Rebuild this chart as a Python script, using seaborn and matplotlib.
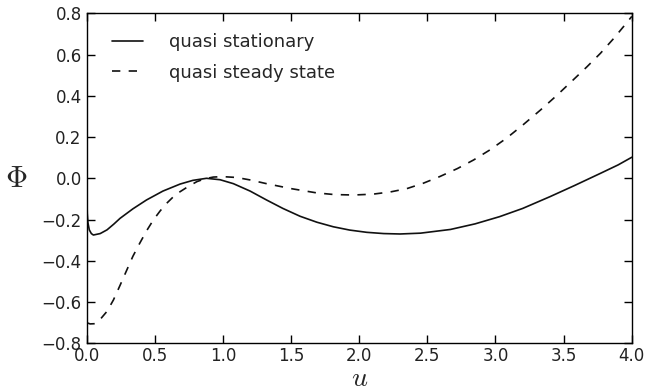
import numpy as np
import pandas as pd
import matplotlib
matplotlib.use("Agg")
import matplotlib.pyplot as plt
import seaborn as sns

# values
u_stat = [0.0, 0.005, 0.01, 0.02, 0.035, 0.05, 0.1, 0.15, 0.2, 0.246, 0.34, 0.44, 0.56, 0.686, 0.78,
          0.88, 0.98, 1.077, 1.2, 1.32, 1.44, 1.566, 1.69, 1.81, 1.93, 2.056, 2.18, 2.3, 2.45, 2.67,
          2.85, 3.03, 3.2, 3.40, 3.58, 3.77, 3.9, 4.0]
phi_stat = [-0.01, -0.17, -0.215, -0.25, -0.268, -0.275, -0.268, -0.25, -0.222, -0.194, -0.148,
            -0.105, -0.062, -0.028, -0.01, 0.0, -0.007, -0.026, -0.062, -0.105, -0.146, -0.184,
            -0.213, -0.235, -0.251, -0.262, -0.268, -0.27, -0.266, -0.248, -0.221, -0.186, -0.146,
            -0.089, -0.035, 0.024, 0.065, 0.102]

u_steady = [0.0, 0.026, 0.06, 0.1, 0.15, 0.197, 0.245, 0.295, 0.34, 0.39, 0.44, 0.49, 0.54, 0.588,
            0.636, 0.686, 0.75, 0.81, 0.87, 0.93, 1.0, 1.1, 1.2, 1.32, 1.5, 1.69, 1.82, 1.96, 2.1,
            2.23, 2.35, 2.47, 2.59, 2.72, 2.84, 2.96, 3.08, 3.2, 3.33, 3.45, 3.57, 3.67, 3.77, 3.87,
            3.97, 4.0]
phi_steady = [-0.70, -0.706, -0.705, -0.684, -0.645, -0.59, -0.52, -0.445, -0.378, -0.315, -0.255,
              -0.202, -0.158, -0.121, -0.09, -0.065, -0.038, -0.016, -0.002, 0.006, 0.008, 0.004,
              -0.008, -0.026, -0.05, -0.071, -0.079, -0.081, -0.077, -0.066, -0.05, -0.024, 0.008,
              0.047, 0.089, 0.138, 0.194, 0.258, 0.331, 0.402, 0.477, 0.54, 0.606, 0.68, 0.76, 0.785]

labels = ["quasi stationary", "quasi steady state"]
xticks = [0.0, 0.5, 1.0, 1.5, 2.0, 2.5, 3.0, 3.5, 4.0]
yticks = [-0.8, -0.6, -0.4, -0.2, 0.0, 0.2, 0.4, 0.6, 0.8]
xticklabels = ["0.0", "0.5", "1.0", "1.5", "2.0", "2.5", "3.0", "3.5", "4.0"]
yticklabels = ["\u22120.8", "\u22120.6", "\u22120.4", "\u22120.2", "0.0", "0.2", "0.4", "0.6", "0.8"]

df = pd.concat([
    pd.DataFrame({"u": u_stat, "phi": phi_stat, "kind": labels[0]}),
    pd.DataFrame({"u": u_steady, "phi": phi_steady, "kind": labels[1]}),
])

sns.set_style("ticks")
plt.rcParams["font.family"] = ["DejaVu Sans"]
plt.rcParams["mathtext.fontset"] = "cm"
plt.rcParams["xtick.direction"] = "in"
plt.rcParams["ytick.direction"] = "in"
plt.rcParams["xtick.top"] = True
plt.rcParams["ytick.right"] = True

fig, ax = plt.subplots(figsize=(6.46, 3.91), dpi=100)
fig.subplots_adjust(left=0.134, right=0.978, top=0.966, bottom=0.122)

sns.lineplot(data=df, x="u", y="phi", style="kind", style_order=labels,
             dashes={labels[0]: "", labels[1]: (5, 5)}, color="#111111", lw=1.2, ax=ax)

ax.set_xlim(0, 4)
ax.set_ylim(-0.8, 0.8)
ax.set_xticks(xticks)
ax.set_yticks(yticks)
ax.set_xticklabels(xticklabels)
ax.set_yticklabels(yticklabels)
ax.tick_params(labelsize=12, length=6, width=1, color="black", labelcolor="#222222")
ax.tick_params(axis="x", pad=3)
for s in ax.spines.values():
    s.set_color("black")
    s.set_linewidth(1.0)

ax.set_xlabel(r"$u$", fontsize=20, labelpad=-1)
ax.set_ylabel(r"$\Phi$", fontsize=22, rotation=0, labelpad=18, va="center")

leg = ax.legend(loc="upper left", bbox_to_anchor=(0.0, 1.017), frameon=False, fontsize=13,
                handlelength=1.75, handletextpad=1.4, labelspacing=0.7, borderaxespad=1.0)
leg.set_title(None)

fig.savefig("out.png", dpi=100)
